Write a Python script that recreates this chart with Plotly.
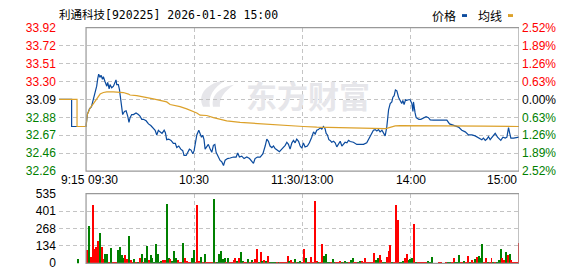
import plotly.graph_objects as go

# ---------------- data ----------------
title_text = "利通科技[920225] 2026-01-28 15:00"
prev_close = 33.09

# price axis (left) and change axis (right)
price_tick_labels = ["33.92", "33.72", "33.51", "33.30", "33.09", "32.88", "32.67", "32.46", "32.26"]
pct_tick_steps = [4, 3, 2, 1, 0, -1, -2, -3, -4]          # multiples of 0.63 %
pct_tick_labels = ["2.52%", "1.89%", "1.26%", "0.63%", "0.00%", "0.63%", "1.26%", "1.89%", "2.52%"]
vol_tick_vals = [0, 134, 268, 401, 535]
x_tick_vals = [-15, 0, 60, 120, 180, 240]                  # minutes from 09:30 (trading time)
x_tick_labels = ["9:15", "09:30", "10:30", "11:30/13:00", "14:00", "15:00"]

# pre-market (call auction) price & average
pre_t = [-15, -8, -8, 0]
pre_price = [33.09, 33.09, 32.775, 32.775]
pre_avg_t = [-15, -5, -5, 0]
pre_avg = [33.09, 33.09, 32.775, 32.775]

# intraday price (minutes from 09:30, trading time)
price_t = [
    0.0, 0.7, 1.9, 3.0, 4.1, 5.0, 5.9, 6.5, 7.0, 7.8,
    8.3, 9.1, 9.6, 10.5, 11.5, 12.0, 12.8, 13.3, 14.2, 15.2,
    16.1, 16.6, 17.0, 17.9, 18.5, 19.2, 19.8, 20.3, 21.3, 22.2,
    23.1, 23.8, 24.4, 25.3, 26.3, 27.7, 29.0, 29.9, 30.9, 31.8,
    33.3, 34.6, 35.9, 37.0, 38.3, 39.2, 40.1, 41.0, 42.1, 43.3,
    44.0, 44.7, 45.8, 47.1, 48.4, 49.5, 50.3, 51.4, 52.5, 53.6,
    54.3, 55.5, 56.4, 57.3, 58.2, 59.2, 59.9, 60.6, 61.4, 62.5,
    63.2, 64.0, 64.7, 65.4, 66.0, 66.9, 67.8, 68.8, 69.7, 70.6,
    71.4, 72.1, 72.8, 73.6, 74.3, 75.2, 76.2, 77.1, 78.4, 79.9,
    81.7, 83.2, 84.1, 85.0, 86.3, 87.6, 89.1, 90.6, 91.9, 92.8,
    93.7, 95.0, 96.5, 98.0, 99.3, 100.2, 101.1, 102.0, 103.0, 103.9,
    104.8, 106.1, 107.2, 108.5, 109.4, 110.4, 111.3, 112.2, 113.1, 114.1,
    115.0, 115.9, 116.8, 117.8, 118.7, 119.6, 120.5, 121.4, 122.7, 123.8,
    125.1, 126.1, 127.0, 127.9, 128.8, 129.8, 130.7, 131.6, 132.5, 133.1,
    133.8, 134.6, 135.3, 136.2, 137.2, 138.1, 139.0, 139.9, 140.9, 141.8,
    142.7, 143.6, 144.6, 145.5, 146.4, 148.2, 150.1, 151.9, 153.8, 155.6,
    156.6, 157.5, 158.4, 159.3, 160.3, 161.2, 162.1, 163.0, 164.0, 164.9,
    165.8, 166.7, 167.7, 168.6, 169.5, 170.1, 170.8, 171.5, 172.3, 173.2,
    174.1, 175.0, 175.6, 176.3, 177.1, 177.8, 178.7, 179.7, 180.6, 181.2,
    181.5, 181.9, 182.4, 183.0, 184.5, 185.6, 187.1, 188.5, 189.8, 190.8,
    192.6, 196.3, 200.0, 201.5, 202.8, 204.6, 206.5, 208.3, 210.2, 212.0,
    213.9, 215.7, 217.6, 219.4, 220.3, 221.3, 222.2, 223.1, 224.0, 225.5,
    226.8, 228.1, 229.2, 229.9, 231.1, 232.4, 233.3, 234.2, 234.8, 235.5,
    237.0, 238.8, 240.0,
]
price = [
    32.775, 32.914, 32.980, 33.006, 33.097, 33.170, 33.244, 33.335, 33.383, 33.346,
    33.372, 33.324, 33.353, 33.299, 33.244, 33.288, 33.214, 33.262, 33.225, 33.244,
    33.299, 33.317, 33.262, 33.262, 33.207, 33.097, 32.988, 32.914, 32.951, 32.958,
    32.896, 32.823, 32.878, 32.914, 32.914, 32.933, 32.914, 32.896, 32.859, 32.859,
    32.841, 32.805, 32.786, 32.761, 32.731, 32.677, 32.731, 32.713, 32.695, 32.731,
    32.702, 32.622, 32.629, 32.614, 32.578, 32.578, 32.530, 32.548, 32.512, 32.494,
    32.439, 32.439, 32.475, 32.512, 32.501, 32.457, 32.494, 32.585, 32.677, 32.731,
    32.688, 32.651, 32.673, 32.622, 32.512, 32.541, 32.567, 32.512, 32.475, 32.556,
    32.567, 32.475, 32.439, 32.402, 32.380, 32.366, 32.322, 32.384, 32.402, 32.409,
    32.420, 32.420, 32.468, 32.420, 32.431, 32.402, 32.420, 32.402, 32.373, 32.347,
    32.402, 32.420, 32.420, 32.457, 32.548, 32.629, 32.603, 32.548, 32.530, 32.548,
    32.519, 32.494, 32.483, 32.512, 32.530, 32.556, 32.592, 32.567, 32.512, 32.585,
    32.614, 32.585, 32.629, 32.603, 32.548, 32.523, 32.585, 32.538, 32.548, 32.585,
    32.651, 32.713, 32.688, 32.731, 32.739, 32.761, 32.746, 32.775, 32.750, 32.695,
    32.677, 32.622, 32.614, 32.592, 32.603, 32.585, 32.538, 32.578, 32.603, 32.548,
    32.574, 32.592, 32.585, 32.614, 32.600, 32.592, 32.567, 32.567, 32.567, 32.585,
    32.622, 32.651, 32.695, 32.731, 32.739, 32.724, 32.739, 32.713, 32.731, 32.688,
    32.666, 32.768, 32.969, 33.042, 33.061, 33.116, 33.134, 33.200, 33.189, 33.116,
    33.086, 33.042, 33.079, 33.031, 33.086, 33.079, 33.086, 33.086, 33.042, 32.951,
    33.061, 32.969, 32.933, 32.878, 32.859, 32.859, 32.878, 32.889, 32.878, 32.852,
    32.849, 32.849, 32.849, 32.805, 32.797, 32.786, 32.768, 32.731, 32.713, 32.677,
    32.677, 32.666, 32.640, 32.622, 32.640, 32.614, 32.629, 32.658, 32.622, 32.658,
    32.695, 32.651, 32.622, 32.614, 32.651, 32.640, 32.651, 32.761, 32.702, 32.640,
    32.640, 32.651, 32.651,
]

# average price line
avg_t = [
    0.0, 0.7, 2.2, 4.1, 5.9, 7.8, 9.6, 11.5, 15.2, 18.9,
    20.7, 23.5, 24.4, 28.1, 33.6, 37.3, 41.0, 44.7, 46.6, 52.1,
    55.8, 59.5, 61.4, 63.2, 66.9, 70.6, 74.3, 78.0, 85.4, 92.8,
    96.5, 102.0, 109.4, 120.5, 127.9, 146.4, 153.8, 165.8, 167.1, 169.5,
    171.4, 174.1, 202.4, 220.3, 240.0,
]
avg_price = [
    32.775, 32.914, 32.988, 33.042, 33.097, 33.152, 33.170, 33.178, 33.178, 33.178,
    33.170, 33.152, 33.141, 33.134, 33.116, 33.097, 33.079, 33.061, 33.031, 33.006,
    32.980, 32.951, 32.933, 32.907, 32.903, 32.878, 32.859, 32.841, 32.823, 32.812,
    32.812, 32.797, 32.786, 32.775, 32.768, 32.761, 32.750, 32.750, 32.757, 32.772,
    32.783, 32.786, 32.786, 32.779, 32.775,
]

# call-auction volume (09:25)
auction_minute = -5
auction_vol = 35
auction_dir = -1

# per-minute volume, minutes 1..240 (09:31 .. 15:00); dir 1 = up (red), -1 = down (green)
volume = [
    104, 292, 53, 451, 111, 125, 176, 234, 130, 31,
    75, 75, 10, 118, 10, 10, 8, 104, 125, 67,
    39, 67, 31, 212, 24, 10, 31, 10, 10, 39,
    75, 10, 39, 133, 24, 67, 46, 10, 154, 75,
    10, 17, 24, 24, 458, 39, 31, 17, 96, 39,
    24, 10, 10, 161, 46, 17, 10, 10, 46, 104,
    8, 451, 17, 53, 10, 75, 5, 10, 10, 10,
    494, 10, 10, 75, 96, 31, 46, 10, 46, 10,
    10, 24, 39, 17, 39, 89, 17, 10, 10, 31,
    10, 24, 10, 31, 111, 10, 89, 17, 24, 17,
    60, 10, 10, 5, 10, 10, 10, 10, 10, 10,
    10, 60, 17, 24, 10, 31, 10, 10, 17, 8,
    111, 39, 10, 10, 53, 10, 480, 17, 10, 10,
    154, 60, 75, 10, 10, 10, 31, 8, 5, 10,
    17, 10, 10, 17, 8, 5, 24, 39, 5, 5,
    5, 17, 17, 10, 46, 10, 10, 10, 10, 82,
    24, 39, 67, 24, 10, 10, 53, 96, 140, 10,
    10, 451, 335, 10, 10, 17, 39, 75, 24, 31,
    39, 306, 10, 5, 5, 10, 5, 10, 10, 17,
    10, 53, 3, 3, 3, 10, 10, 3, 3, 10,
    10, 10, 5, 39, 10, 10, 67, 5, 10, 17,
    10, 60, 10, 24, 10, 31, 53, 56, 39, 147,
    10, 46, 10, 10, 39, 10, 10, 10, 24, 111,
    46, 24, 89, 67, 75, 24, 5, 5, 5, 161,
]
vol_dir = [
    1, -1, 1, 1, 1, 1, 1, -1, 1, 1,
    -1, -1, 1, -1, 1, 1, 1, -1, -1, -1,
    -1, 1, 1, -1, 1, 1, -1, 1, -1, 1,
    -1, 1, -1, -1, 1, -1, -1, -1, -1, -1,
    -1, -1, 1, 1, -1, -1, 1, -1, -1, -1,
    1, 1, 1, -1, 1, 1, 1, 1, -1, -1,
    1, 1, 1, -1, 1, -1, 1, 1, 1, 1,
    -1, 1, -1, -1, -1, -1, -1, 1, -1, 1,
    1, 1, 1, -1, 1, -1, -1, 1, 1, -1,
    1, -1, 1, 1, 1, -1, 1, -1, 1, -1,
    1, -1, -1, -1, -1, 1, -1, 1, 1, 1,
    1, 1, -1, 1, 1, -1, 1, -1, -1, 1,
    1, -1, 1, 1, 1, 1, 1, 1, -1, 1,
    1, -1, -1, -1, -1, 1, -1, -1, 1, 1,
    1, -1, 1, -1, -1, 1, -1, -1, 1, 1,
    -1, -1, 1, 1, 1, 1, 1, 1, 1, 1,
    -1, -1, 1, 1, -1, -1, 1, 1, 1, -1,
    1, 1, 1, -1, -1, -1, 1, 1, -1, -1,
    -1, 1, -1, 1, 1, 1, 1, 1, 1, -1,
    -1, -1, 1, 1, 1, 1, 1, 1, 1, 1,
    -1, -1, 1, 1, -1, -1, -1, 1, 1, -1,
    1, 1, -1, 1, 1, -1, 1, -1, -1, -1,
    1, 1, -1, 1, 1, -1, 1, -1, -1, -1,
    1, 1, -1, 1, -1, 1, 1, 1, 1, 1,
]
vol_minutes = list(range(1, len(volume) + 1))

# ---------------- styling ----------------
W, H = 578, 276
BLUE = "#0b4b9e"
ORANGE = "#dca12a"
RED = "#ff0000"
GREEN = "#008000"
GRID = "#c4c4c4"
BORDER = "#999999"
NUM_FONT = "Arial, Liberation Sans, sans-serif"
CJK_FONT = "Noto Sans CJK SC, sans-serif"
DASH = "4px,3px"

PX_L, PX_R = 58.9, 519.0
MAIN_TOP, MAIN_BOT = 21.7, 173.0
VOL_TOP, VOL_BOT = 196.7, 270.0


def fx(px):
    return px / W


def fy(py):
    return 1 - py / H


tick_step = prev_close * 0.0063
price_tick_vals = [prev_close + k * tick_step for k in pct_tick_steps]
lo, hi = min(price_tick_vals), max(price_tick_vals)


def col_for(k):
    return RED if k > 0 else (GREEN if k < 0 else "#000000")


left_text = [f'<span style="color:{col_for(k)}">{lab}</span>'
             for k, lab in zip(pct_tick_steps, price_tick_labels)]
right_text = [f'<span style="color:{col_for(k)}">{lab}</span>'
              for k, lab in zip(pct_tick_steps, pct_tick_labels)]

grid_x = [v for v in x_tick_vals if v not in (0, 240)]

fig = go.Figure()

# price line
fig.add_trace(go.Scatter(x=pre_t + price_t, y=pre_price + price, mode="lines",
                         line=dict(color=BLUE, width=1.2), xaxis="x", yaxis="y",
                         hoverinfo="skip"))
# average line
fig.add_trace(go.Scatter(x=pre_avg_t + avg_t, y=pre_avg + avg_price, mode="lines",
                         line=dict(color=ORANGE, width=1.2), xaxis="x", yaxis="y",
                         hoverinfo="skip"))
# invisible trace to activate right axis
fig.add_trace(go.Scatter(x=[0], y=[prev_close], mode="markers", marker=dict(opacity=0),
                         xaxis="x", yaxis="y3", hoverinfo="skip"))

# volume bars
bar_x = [auction_minute + 0.7] + [m - 0.3 for m in vol_minutes]
bar_y = [auction_vol] + volume
bar_c = [RED if d > 0 else GREEN for d in [auction_dir] + vol_dir]
fig.add_trace(go.Bar(x=bar_x, y=bar_y, width=0.55, marker=dict(color=bar_c, line=dict(width=0)),
                     xaxis="x2", yaxis="y2", hoverinfo="skip"))

axis_common = dict(showline=False, zeroline=False, ticks="", fixedrange=True)
grid_common = dict(showgrid=True, gridcolor=GRID, griddash=DASH, gridwidth=1)

fig.update_layout(
    width=W, height=H, margin=dict(l=0, r=0, t=0, b=0),
    paper_bgcolor="white", plot_bgcolor="rgba(0,0,0,0)", showlegend=False, bargap=0,
    xaxis=dict(domain=[fx(PX_L), fx(PX_R)], range=[-15.05, 240], anchor="y",
               tickvals=grid_x, showticklabels=False, **grid_common, **axis_common),
    yaxis=dict(domain=[fy(MAIN_BOT), fy(MAIN_TOP)], range=[lo - 0.001, hi + 0.001], anchor="x",
               tickmode="array", tickvals=price_tick_vals, ticktext=left_text,
               tickfont=dict(family=NUM_FONT, size=12), ticklabelstandoff=2,
               **grid_common, **axis_common),
    yaxis3=dict(overlaying="y", side="right", anchor="x", range=[lo - 0.001, hi + 0.001],
                tickmode="array", tickvals=price_tick_vals, ticktext=right_text, showgrid=False,
                tickfont=dict(family=NUM_FONT, size=12), ticklabelstandoff=2, **axis_common),
    xaxis2=dict(domain=[fx(PX_L), fx(PX_R)], range=[-15.05, 240], anchor="y2",
                tickvals=grid_x, showticklabels=False, **grid_common, **axis_common),
    yaxis2=dict(domain=[fy(VOL_BOT), fy(VOL_TOP)], range=[-0.5, 535.5], anchor="x2",
                tickmode="array", tickvals=vol_tick_vals,
                ticktext=[str(v) for v in vol_tick_vals],
                tickfont=dict(family=NUM_FONT, size=12, color="#000000"),
                ticklabelstandoff=2, **grid_common, **axis_common),
)

shapes = []
# solid frames for the trading session
for xr, yr in (("x", "y domain"), ("x2", "y2 domain")):
    shapes.append(dict(type="rect", xref=xr, yref=yr, x0=0, x1=240, y0=0, y1=1,
                       line=dict(color=BORDER, width=1.2), layer="above"))

# legend swatches
shapes.append(dict(type="rect", xref="paper", yref="paper", x0=fx(462), x1=fx(467),
                   y0=fy(10.5), y1=fy(7.5), fillcolor=BLUE, line=dict(width=0)))
shapes.append(dict(type="rect", xref="paper", yref="paper", x0=fx(508), x1=fx(513),
                   y0=fy(10.5), y1=fy(7.5), fillcolor=ORANGE, line=dict(width=0)))


# watermark logo (decorative)
def path_px(points):
    s = ""
    for cmd, pts in points:
        s += cmd + " " + " ".join(f"{fx(x):.5f},{fy(y):.5f}" for x, y in pts) + " "
    return s + "Z"


logo1 = path_px([("M", [(203, 105)]), ("C", [(197, 92), (207, 80), (226, 77)]),
                 ("C", [(213, 85), (208, 95), (210, 105)])])
logo2 = path_px([("M", [(213, 105)]), ("C", [(211, 93), (219, 85), (234, 82)]),
                 ("C", [(224, 89), (219, 97), (220, 105)])])
for p in (logo1, logo2):
    shapes.append(dict(type="path", xref="paper", yref="paper", path=p,
                       fillcolor="#e6e6ea", line=dict(width=0), layer="below"))

fig.update_layout(shapes=shapes)

ann = []
# title
ann.append(dict(text=title_text, xref="paper", yref="paper", x=fx(57), y=fy(8.5),
                xanchor="left", yanchor="middle", showarrow=False,
                font=dict(family="DejaVu Sans Mono, Noto Sans CJK SC, monospace", size=11.5,
                          color="#000000")))
# legend texts
ann.append(dict(text="价格", xref="paper", yref="paper", x=fx(430), y=fy(9),
                xanchor="left", yanchor="middle", showarrow=False,
                font=dict(family=CJK_FONT, size=12, color="#000000")))
ann.append(dict(text="均线", xref="paper", yref="paper", x=fx(476), y=fy(9),
                xanchor="left", yanchor="middle", showarrow=False,
                font=dict(family=CJK_FONT, size=12, color="#000000")))
# x tick labels
anchors = ["left", "left", "center", "center", "center", "right"]
for v, lab, a in zip(x_tick_vals, x_tick_labels, anchors):
    ann.append(dict(text=lab, xref="x", yref="paper", x=v, y=fy(182.5),
                    xanchor=a, yanchor="middle", showarrow=False,
                    font=dict(family=NUM_FONT, size=12, color="#000000")))
# watermark text
ann.append(dict(text="<b>东方财富</b>", xref="paper", yref="paper", x=fx(308), y=fy(92),
                xanchor="center", yanchor="middle", showarrow=False,
                font=dict(family=CJK_FONT, size=31, color="#e6e6ea")))
fig.update_layout(annotations=ann)

fig.write_html("out.html")
